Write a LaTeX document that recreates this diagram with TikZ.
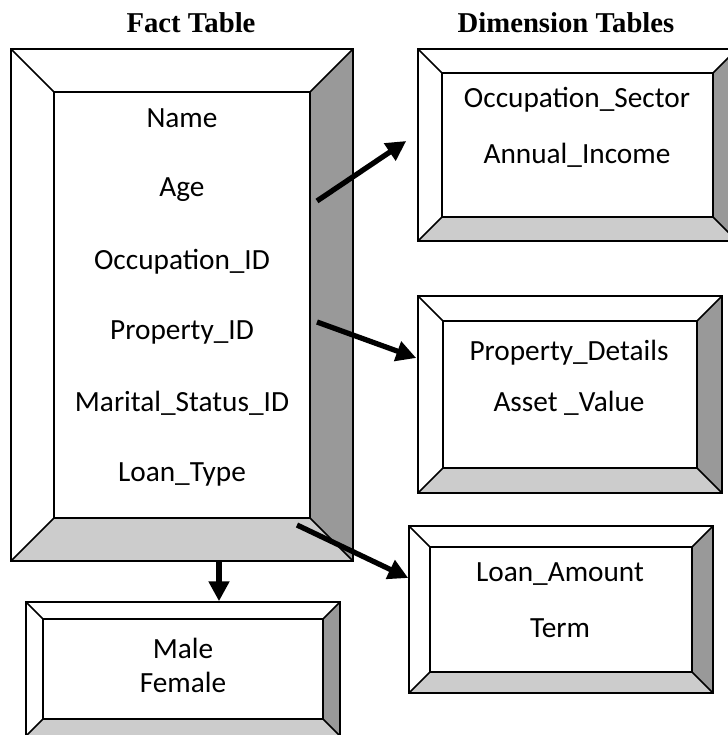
\documentclass[tikz,border=0pt]{standalone}
\usepackage{fontspec}
\newfontfamily\calfont{Carlito}
\newfontfamily\tnrfont{Liberation Serif}
\usetikzlibrary{arrows.meta}
\definecolor{bevdark}{gray}{0.6}
\definecolor{bevlight}{gray}{0.8}
\newcommand\pxu{0.03cm}

\begin{document}
\begin{tikzpicture}[x=\pxu, y=-\pxu,
  tbl/.style n args={3}{draw, line width=1.3pt, inner sep=0pt,
    minimum width=#1*\pxu, minimum height=#2*\pxu,
    path picture={
      \path (path picture bounding box.north west) coordinate (bnw)
            (path picture bounding box.north east) coordinate (bne)
            (path picture bounding box.south west) coordinate (bsw)
            (path picture bounding box.south east) coordinate (bse);
      \fill[bevdark] (bne) -- ++(-#3,#3) -- ([shift={(-#3,-#3)}]bse) -- (bse) -- cycle;
      \fill[bevlight] (bsw) -- ++(#3,-#3) -- ([shift={(-#3,-#3)}]bse) -- (bse) -- cycle;
      \draw[line width=1.3pt] ([shift={(#3,#3)}]bnw) rectangle ([shift={(-#3,-#3)}]bse);
      \draw[line width=1.3pt] (bnw) -- ++(#3,#3) (bne) -- ++(-#3,#3)
        (bsw) -- ++(#3,-#3) (bse) -- ++(-#3,-#3);
    }},
  fld/.style={font=\calfont\fontsize{25}{29}\selectfont, inner sep=1pt},
  ttl/.style={font=\tnrfont\bfseries\fontsize{24.5}{28}\selectfont, inner sep=1pt},
  a/.style={-{Triangle[length=17pt,width=17pt]}, line width=4.5pt}]
\useasboundingbox (0,0) rectangle (727,735);
\node[ttl] (facthd) at (191,23) {Fact Table};
\node[ttl] (dimhd) at (566,23) {Dimension Tables};
% fact table
\node[tbl={342}{512}{43}] (fact) at (182,305) {};
\node[fld] (name) at (182,118) {Name};
\node[fld] (age) at (182,190) {Age};
\node[fld] (occid) at (182,262) {Occupation\_ID};
\node[fld] (propid) at (182,332) {Property\_ID};
\node[fld] (marid) at (182,403) {Marital\_Status\_ID};
\node[fld] (loantype) at (182,474) {Loan\_Type};
% dimension tables
\node[tbl={319}{192}{24}] (occ) at (577.5,145) {};
\node[fld] (occsec) at (577,100) {Occupation\_Sector};
\node[fld] (income) at (577,155) {Annual\_Income};
\node[tbl={304}{197}{25}] (prop) at (570,394.5) {};
\node[fld] (propdet) at (569,353) {Property\_Details};
\node[fld] (asset) at (569,403) {Asset \_Value};
\node[tbl={304}{167}{21}] (loan) at (561,609.5) {};
\node[fld] (amount) at (560,574) {Loan\_Amount};
\node[fld] (term) at (560,628) {Term};
\node[tbl={314}{134}{17}] (gender) at (183,669) {};
\node[fld] (male) at (183,648) {Male};
\node[fld] (female) at (183,682) {Female};
% arrows
\coordinate (s1) at (317,201);
\coordinate (s2) at (317,322);
\coordinate (s3) at (297,525);
\coordinate (s4) at (219,561);
\draw[a] (s1) -- ([shift={(-11,-4)}]occ.west);
\draw[a] (s2) -- ([shift={(-1,-36.5)}]prop.west);
\draw[a] (s3) -- ([shift={(0,-31.5)}]loan.west);
\draw[a] (s4) -- (s4 |- gender.north);
\end{tikzpicture}
\end{document}
